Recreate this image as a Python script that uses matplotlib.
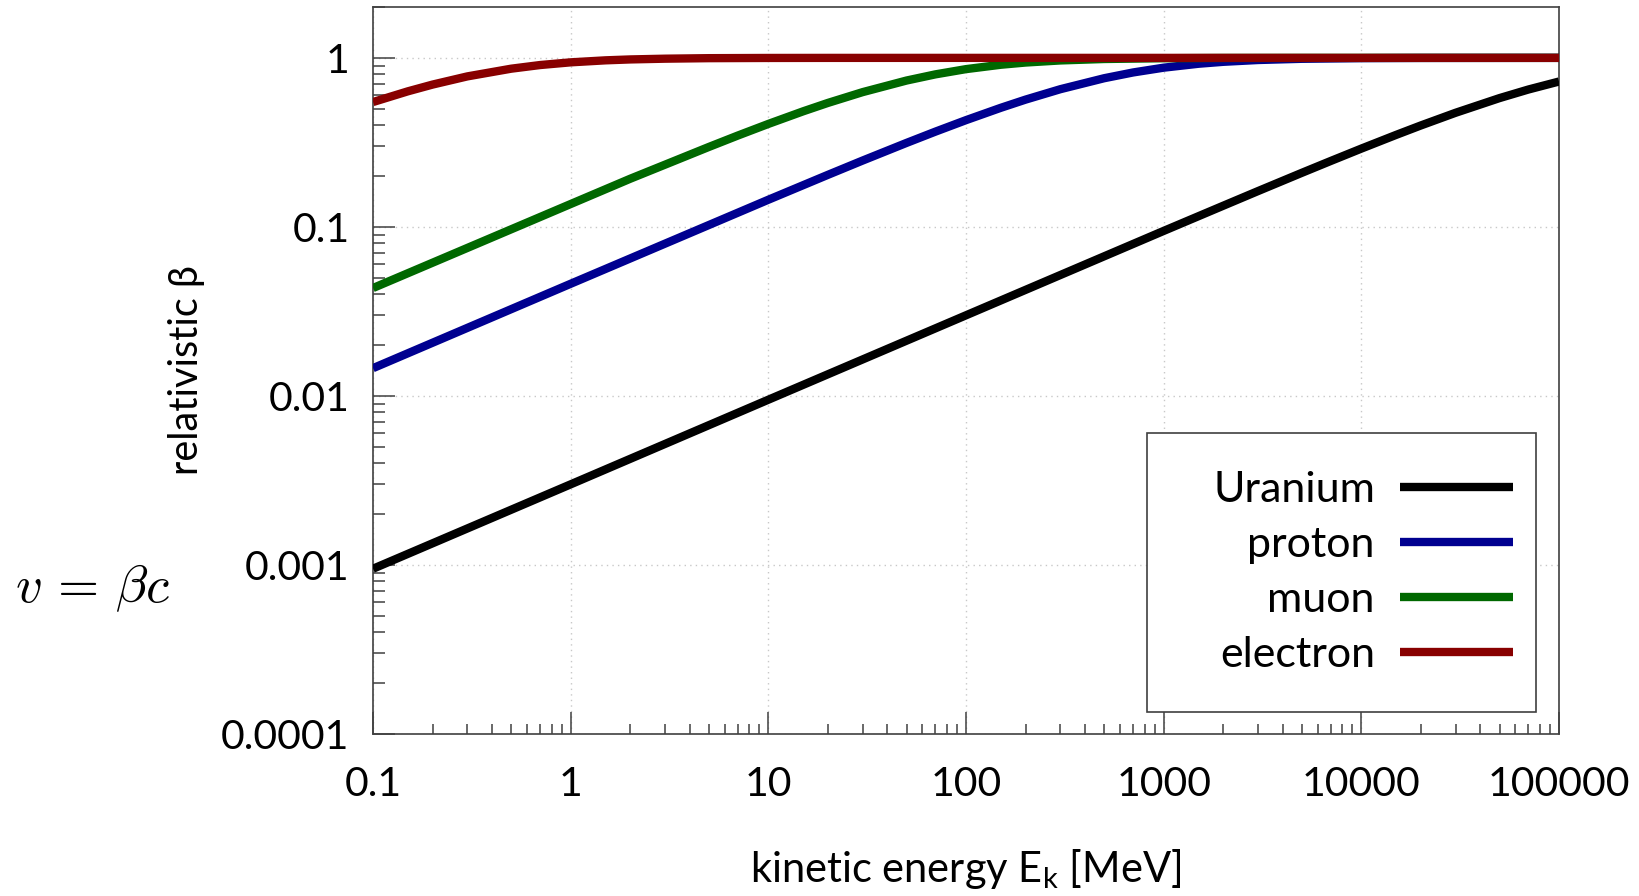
import numpy as np
import matplotlib
matplotlib.use("Agg")
import matplotlib.pyplot as plt
from matplotlib.ticker import LogLocator, NullFormatter
from matplotlib.patches import Rectangle

plt.rcParams['font.family'] = ['Lato', 'DejaVu Sans']

## values (kinetic energy in MeV, beta)
e_x = [0.1, 0.15, 0.2, 0.3, 0.5, 0.7, 1, 1.5, 2, 3, 5, 10, 20, 100, 100000]
e_beta = [0.548, 0.634, 0.695, 0.777, 0.863, 0.907, 0.941, 0.967, 0.979,
          0.989, 0.996, 0.9989, 0.9997, 1.0, 1.0]

mu_x = [0.1, 1, 2, 3, 5, 7, 10, 15, 20, 30, 50, 70, 100, 150, 200, 300,
        500, 1000, 2000, 5000, 100000]
mu_beta = [0.0435, 0.1366, 0.1927, 0.2334, 0.2972, 0.3470, 0.4067, 0.4829,
           0.5413, 0.6272, 0.7344, 0.7988, 0.8579, 0.9106, 0.9384, 0.9655,
           0.9847, 0.9954, 0.9987, 0.9998, 1.0]

p_x = [0.1, 1, 10, 20, 30, 50, 70, 100, 150, 200, 300, 500, 700, 1000,
       1500, 2000, 3000, 5000, 10000, 20000, 100000]
p_beta = [0.0146, 0.0461, 0.1448, 0.2032, 0.2470, 0.3140, 0.3661, 0.4282,
          0.5066, 0.5662, 0.6526, 0.7579, 0.8198, 0.8750, 0.9230, 0.9476,
          0.9712, 0.9874, 0.9963, 0.9990, 1.0]

u_x = [0.1, 1, 10, 100, 1000, 2000, 3000, 5000, 7000, 10000, 15000, 20000,
       30000, 50000, 70000, 100000]
u_beta = [0.00095, 0.00300, 0.00950, 0.0300, 0.0947, 0.1334, 0.1629, 0.2089,
          0.2455, 0.2906, 0.3503, 0.3983, 0.4735, 0.5781, 0.6499, 0.7246]

names = ['Uranium', 'proton', 'muon', 'electron']
colors = ['black', '#000090', '#006800', '#880000']

x_ticks = [0.1, 1, 10, 100, 1000, 10000, 100000]
x_tick_labels = ['0.1', '1', '10', '100', '1000', '10000', '100000']
y_ticks = [0.0001, 0.001, 0.01, 0.1, 1]
y_tick_labels = ['0.0001', '0.001', '0.01', '0.1', '1']

fig = plt.figure(figsize=(16.39, 8.96), dpi=100)
ax = fig.add_axes([0.2276, 0.1808, 0.9512 - 0.2276, 0.9922 - 0.1808])

series = [(u_x, u_beta), (p_x, p_beta), (mu_x, mu_beta), (e_x, e_beta)]
for (xs, ys), name, c in zip(series, names, colors):
    ax.plot(xs, ys, color=c, lw=6, label=name, solid_capstyle='butt',
            solid_joinstyle='round', zorder=3)

ax.set_xscale('log')
ax.set_yscale('log')
ax.set_xlim(0.1, 100000)
ax.set_ylim(0.0001, 2)

ax.set_xticks(x_ticks, x_tick_labels)
ax.set_yticks(y_ticks, y_tick_labels)
ax.xaxis.set_minor_locator(LogLocator(base=10, subs=np.arange(2, 10), numticks=20))
ax.yaxis.set_minor_locator(LogLocator(base=10, subs=np.arange(2, 10), numticks=20))
ax.xaxis.set_minor_formatter(NullFormatter())
ax.yaxis.set_minor_formatter(NullFormatter())

ax.tick_params(which='both', direction='in', color='#404040', width=1.1,
               top=False, right=False, labelsize=29.5)
ax.tick_params(which='major', length=16)
ax.tick_params(axis='x', which='major', pad=23)
ax.tick_params(axis='y', which='major', pad=17)
ax.tick_params(axis='x', which='minor', length=7)
ax.tick_params(axis='y', which='minor', length=8.6)

for s in ax.spines.values():
    s.set_color('#404040')
    s.set_linewidth(1.2)

ax.grid(True, which='major', color='#c8c8c8', linestyle=(0, (1, 3)), lw=1)

ax.set_xlabel(r'kinetic energy E$_\mathregular{k}$ [MeV]', fontsize=30)
ax.set_ylabel('relativistic β', fontsize=28.5)
ax.xaxis.set_label_coords(0.5, -0.156)
ax.yaxis.set_label_coords(-0.142, 0.5)

# legend box (white, drawn over the grid)
box = Rectangle((0.653, 0.030), 0.328, 0.384, transform=ax.transAxes,
                facecolor='white', edgecolor='#404040', lw=1.2, zorder=4)
ax.add_patch(box)
leg = ax.legend(loc='center right', bbox_to_anchor=(0.961, 0.222),
                frameon=False, markerfirst=False, fontsize=31,
                handlelength=2.62, handletextpad=0.58, labelspacing=0.39,
                borderpad=0, borderaxespad=0)
leg.set_zorder(5)

fig.text(0.009, 0.344, r'$v\,=\,\beta c$', fontsize=38, math_fontfamily='cm',
         va='center', ha='left')

fig.savefig('out.png', dpi=100)
